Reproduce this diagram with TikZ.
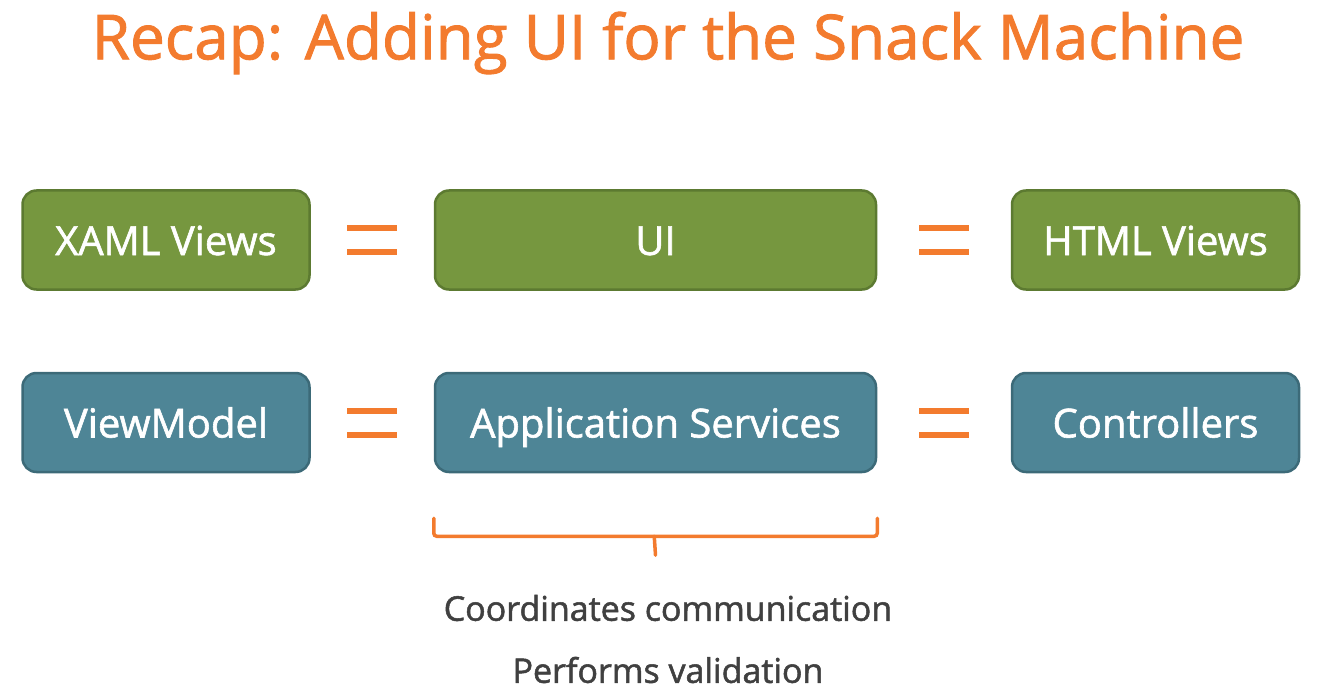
\documentclass[tikz,border=0pt]{standalone}
\usepackage{fontspec}
\setmainfont{Open Sans}[FakeBold=1.5]
\usetikzlibrary{calc}
\definecolor{snackorange}{HTML}{F37B2E}
\definecolor{uigreen}{HTML}{76973F}
\definecolor{uigreenline}{HTML}{5C7A31}
\definecolor{svcteal}{HTML}{4E8596}
\definecolor{svctealline}{HTML}{3C6A78}
\definecolor{notegrey}{HTML}{404040}
\begin{document}
\begin{tikzpicture}[x=1pt,y=-1pt]
  \tikzset{layer/.style = {shape=rectangle,rounded corners=14pt,line width=2.5pt,text=white,font=\fontsize{40}{46}\selectfont,minimum height=99pt,inner sep=0pt,text height=33pt,text depth=3pt}}
  \tikzset{greenbox/.style = {layer,fill=uigreen,draw=uigreenline}}
  \tikzset{tealbox/.style = {layer,fill=svcteal,draw=svctealline}}
  \tikzset{eqbar/.style = {snackorange,line width=6pt}}
  \tikzset{note/.style = {text=notegrey,font=\fontsize{34}{40}\selectfont}}

  \useasboundingbox (0,0) rectangle (1342,698);

  \node[text=snackorange,font=\fontsize{62}{68}\selectfont] (title) at (668,43) {Recap: Adding UI for the Snack Machine};

	\node[greenbox,minimum width=287pt] (xaml) at (166,240) {XAML Views};
	\node[greenbox,minimum width=441pt] (ui) at (655.5,240) {UI};
	\node[greenbox,minimum width=287pt] (html) at (1155.5,240) {HTML Views};

	\node[tealbox,minimum width=287pt] (vm) at (166,422.5) {ViewModel};
	\node[tealbox,minimum width=441pt] (appsvc) at (655.5,422.5) {Application Services};
	\node[tealbox,minimum width=287pt] (ctrl) at (1155.5,422.5) {Controllers};

    % equal signs between the boxes
    \foreach \left/\right in {xaml/ui,ui/html,vm/appsvc,appsvc/ctrl}
    {
      \coordinate (m) at ($(\left.east)!0.5!(\right.west)$);
      \draw[eqbar] ($(m)+(-25,-12)$) -- ($(m)+(25,-12)$);
      \draw[eqbar] ($(m)+(-25,12)$) -- ($(m)+(25,12)$);
    }

    % brace under the services box
    \coordinate (bl) at ($(appsvc.south west)+(0,45)$);
    \coordinate (br) at ($(appsvc.south east)+(0,45)$);
    \coordinate (tip) at ($(appsvc.south)+(0,82)$);
    \draw[snackorange,line width=3.5pt,line cap=round,rounded corners=3pt]
      (bl) -- ++(0,18) -| (br);
    \draw[snackorange,line width=3.5pt,line cap=round] ($(bl)+(220.5,18)$) -- (tip);

	\node[note] (coord) at (668,608) {Coordinates communication};
	\node[note] (valid) at (668,670) {Performs validation};

\end{tikzpicture}
\end{document}
